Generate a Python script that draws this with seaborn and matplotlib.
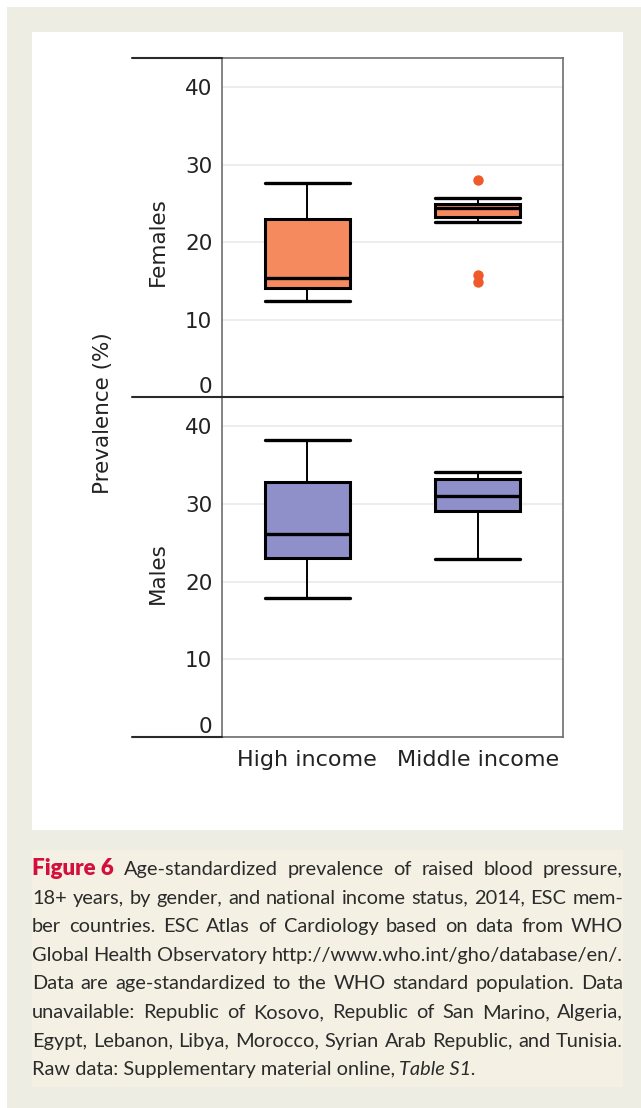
import numpy as np
import pandas as pd
import matplotlib
matplotlib.use("Agg")
import matplotlib.pyplot as plt
import seaborn as sns
from matplotlib.patches import Rectangle
from matplotlib.lines import Line2D

# ---------------- data ----------------
incomes = ["High income", "Middle income"]
# five-number summaries: lower whisker, Q1, median, Q3, upper whisker
females_high = [12.4, 14.1, 15.4, 23.0, 27.6]
females_middle = [22.6, 23.3, 24.4, 25.0, 25.7]
females_middle_outliers = [28.0, 15.7, 14.9]
males_high = [17.9, 23.1, 26.1, 32.9, 38.2]
males_middle = [22.9, 29.1, 31.1, 33.3, 34.2]
y_ticks = [0, 10, 20, 30, 40]

caption_lines = [
    "Figure 6 Age-standardized prevalence of raised blood pressure,",
    "18+ years, by gender, and national income status, 2014, ESC mem-",
    "ber countries. ESC Atlas of Cardiology based on data from WHO",
    "Global Health Observatory http://www.who.int/gho/database/en/.",
    "Data are age-standardized to the WHO standard population. Data",
    "unavailable: Republic of Kosovo, Republic of San Marino, Algeria,",
    "Egypt, Lebanon, Libya, Morocco, Syrian Arab Republic, and Tunisia.",
]
caption_last = "Raw data: Supplementary material online,"
caption_last_italic = "Table S1."

# ---------------- style ----------------
sns.set_theme(style="white")
plt.rcParams["font.family"] = ["DejaVu Sans"]

orange = "#f58a5e"
orange_pt = "#f05a2a"
purple = "#8f8fc9"
spine_c = "#6e6e6e"
dark = "#2a2a2a"

W, H = 641, 1108
fig = plt.figure(figsize=(W / 100, H / 100), dpi=100)
fig.patch.set_facecolor("white")


def fx(x):
    return x / W


def fy(y):
    return 1 - y / H


# background panels
fig.add_artist(Rectangle((fx(7), 0), 1 - fx(7), fy(7), transform=fig.transFigure,
                         facecolor="#eeede3", edgecolor="none", zorder=-20))
fig.add_artist(Rectangle((fx(32), fy(830)), fx(623) - fx(32), fy(32) - fy(830),
                         transform=fig.transFigure, facecolor="white",
                         edgecolor="none", zorder=-19))
fig.add_artist(Rectangle((fx(32), fy(1087)), fx(623) - fx(32), fy(850) - fy(1087),
                         transform=fig.transFigure, facecolor="#f4f1e4",
                         edgecolor="none", zorder=-19))

ax_top = fig.add_axes([fx(222), fy(397), fx(563) - fx(222), fy(58) - fy(397)])
ax_bot = fig.add_axes([fx(222), fy(737), fx(563) - fx(222), fy(397) - fy(737)])


def draw_panel(ax, high, middle, color, outliers=None):
    df = pd.DataFrame({
        "income": [incomes[0]] * len(high) + [incomes[1]] * len(middle),
        "value": list(high) + list(middle),
    })
    sns.boxplot(data=df, x="income", y="value", order=incomes, width=0.5,
                color=color, saturation=1, linecolor="black", linewidth=2.2,
                whis=np.inf, showfliers=False, ax=ax, capwidths=0.5,
                whiskerprops=dict(linewidth=1.4),
                capprops=dict(linewidth=2.4),
                boxprops=dict(linewidth=2.2),
                medianprops=dict(linewidth=2.4))
    if outliers is not None:
        odf = pd.DataFrame({"income": [incomes[1]] * len(outliers),
                            "value": outliers})
        sns.stripplot(data=odf, x="income", y="value", order=incomes,
                      jitter=False, color=orange_pt, size=7.5, linewidth=0,
                      ax=ax, zorder=5)
    ax.set_xlabel("")
    ax.set_ylabel("")
    ax.set_xlim(-0.5, 1.5)
    ax.set_ylim(0, 43.8)
    ax.set_yticks(y_ticks)
    ax.set_yticklabels([str(v) for v in y_ticks])
    ax.yaxis.grid(True, color="#ececec", linewidth=1.3)
    ax.xaxis.grid(False)
    ax.set_axisbelow(True)
    ax.set_facecolor("none")
    ax.tick_params(axis="y", direction="out", length=5, width=1.1,
                   color=spine_c, pad=2, labelsize=15.5, labelcolor="#222222")
    for s in ax.spines.values():
        s.set_color(spine_c)
        s.set_linewidth(1.2)
        s.set_visible(True)
    ax.yaxis.get_major_ticks()[0].label1.set_verticalalignment("bottom")
    ax.yaxis.get_major_ticks()[0].tick1line.set_visible(False)


draw_panel(ax_top, females_high, females_middle, orange, females_middle_outliers)
draw_panel(ax_bot, males_high, males_middle, purple)

ax_top.set_xticks([])
ax_top.tick_params(axis="x", length=0)
ax_bot.set_xticks([-0.5, 0.5, 1.5])
ax_bot.set_xticklabels(["", "", ""])
ax_bot.set_xticks([0, 1], minor=True)
ax_bot.set_xticklabels(incomes, minor=True)
ax_bot.tick_params(axis="x", which="major", direction="out", length=6,
                   width=1.2, color=spine_c)
ax_bot.tick_params(axis="x", which="minor", length=0, pad=9, labelsize=16,
                   labelcolor="#222222")
ax_bot.spines["top"].set_visible(False)

# extended horizontal rules
for (x0, x1, y) in [(132, 222, 58), (132, 563, 397), (132, 222, 737)]:
    fig.add_artist(Line2D([fx(x0), fx(x1)], [fy(y), fy(y)], transform=fig.transFigure,
                          color=dark, linewidth=1.5))

# axis labels
fig.text(fx(158), fy(242), "Females", rotation=90, ha="center", va="center",
         fontsize=15.5, color="#222222")
fig.text(fx(158), fy(573), "Males", rotation=90, ha="center", va="center",
         fontsize=15.5, color="#222222")
fig.text(fx(103), fy(413), "Prevalence (%)", rotation=90, ha="center",
         va="center", fontsize=15.5, color="#222222")

# ---------------- caption (justified) ----------------
fig.canvas.draw()
renderer = fig.canvas.get_renderer()
cap_left, cap_right = 32, 623
base0, step = 875, 28.6
cap_family = ["Lato", "DejaVu Sans"]
cap_color = "#2b2b2b"


def tokens_for(i, line, fs):
    words = line.split(" ")
    toks = []
    if i == 0:
        toks.append((" ".join(words[:2]),
                     dict(weight="heavy", color="#d3103d", fontsize=fs * 1.12)))
        words = words[2:]
    for w in words:
        toks.append((w, dict(color=cap_color, fontsize=fs)))
    return toks


def layout(fs):
    all_items = []
    ok = True
    for i, line in enumerate(caption_lines):
        toks = tokens_for(i, line, fs)
        texts = []
        for w, st in toks:
            t = fig.text(0, 0, w, family=cap_family, va="baseline", ha="left", **st)
            texts.append(t)
        widths = [t.get_window_extent(renderer).width for t in texts]
        sp = fs * 100 / 72 * 0.2
        gap = (cap_right - cap_left - sum(widths)) / (len(texts) - 1)
        if gap < sp * 0.7:
            ok = False
        x = cap_left
        y = base0 + i * step
        for t, w in zip(texts, widths):
            t.set_position((fx(x), fy(y)))
            x += w + gap
        all_items.extend(texts)
    # last line, left aligned
    y = base0 + len(caption_lines) * step
    t1 = fig.text(fx(cap_left), fy(y), caption_last, family=cap_family,
                  va="baseline", ha="left", fontsize=fs, color=cap_color)
    w1 = t1.get_window_extent(renderer).width
    t2 = fig.text(fx(cap_left + w1 + fs * 100 / 72 * 0.22), fy(y),
                  caption_last_italic, family=cap_family, style="italic",
                  va="baseline", ha="left", fontsize=fs, color=cap_color)
    all_items.extend([t1, t2])
    return ok, all_items


fs = 14.6
while True:
    ok, items = layout(fs)
    if ok or fs < 10:
        break
    for t in items:
        t.remove()
    fs -= 0.2

fig.savefig("out.png", dpi=100, facecolor=fig.get_facecolor())
